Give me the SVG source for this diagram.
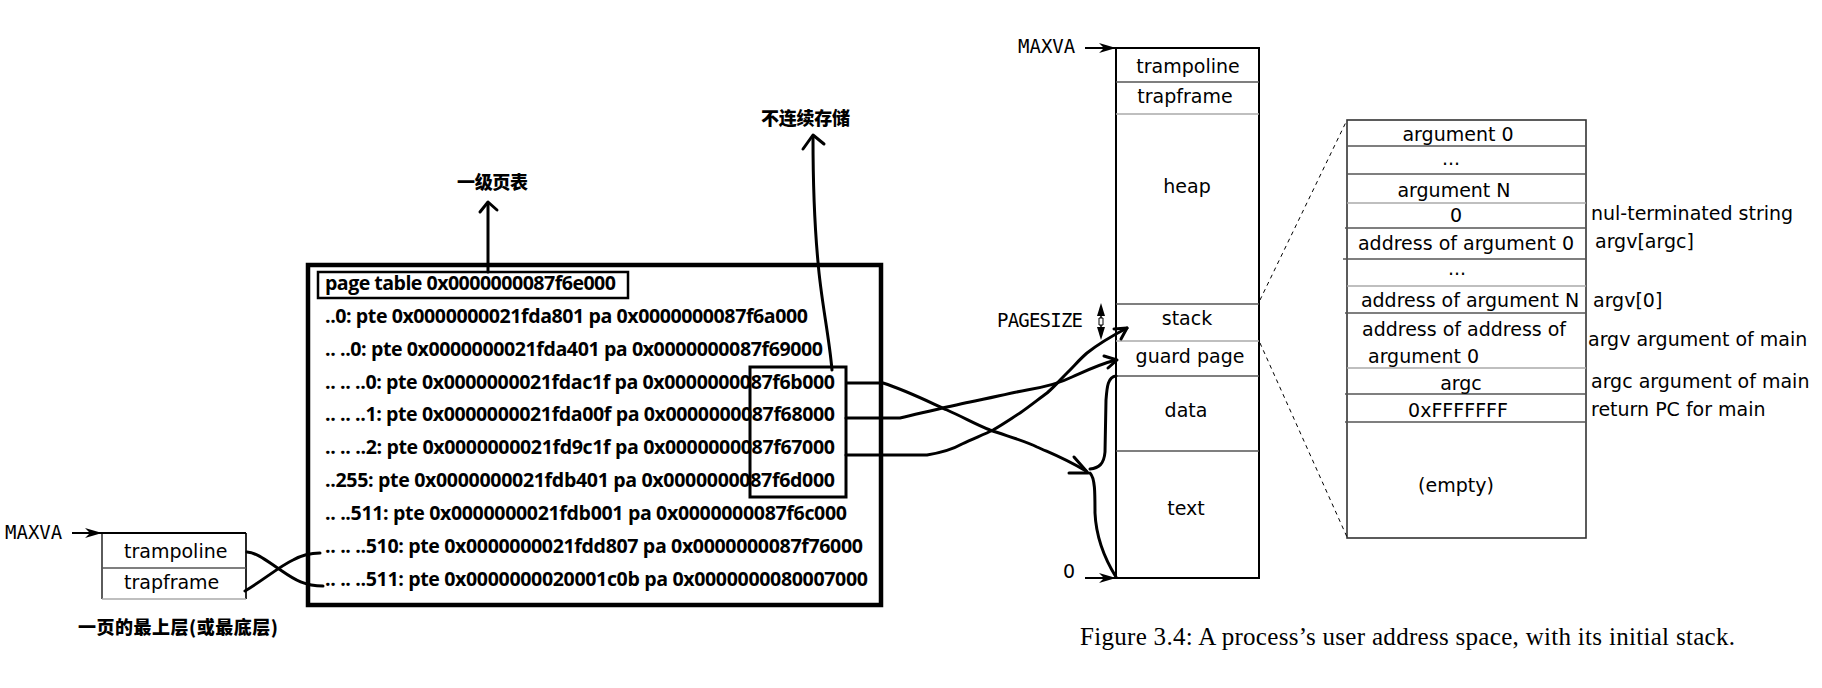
<svg xmlns="http://www.w3.org/2000/svg" width="1822" height="688" viewBox="0 0 1822 688">
<defs>
<style>
.bg{fill:#fff}
.pt{font-family:"Open Sans","Noto Sans",sans-serif;font-weight:bold;font-size:19.6px;fill:#000}
.cjk{font-family:"Noto Sans CJK SC","Noto Sans",sans-serif;font-weight:900;font-size:18px;fill:#000}
.dv{font-family:"DejaVu Sans",sans-serif;font-size:19px;fill:#000}
.mono{font-family:"DejaVu Sans Mono",monospace;font-size:19px;fill:#000}
.cap{font-family:"Liberation Serif",serif;font-size:25px;fill:#000}
.edge{fill:none;stroke:#000;stroke-width:2}
.div1{stroke:#555;stroke-width:1.6}
.div2{stroke:#aaa;stroke-width:1.6}
.hand{fill:none;stroke:#000;stroke-width:3;stroke-linecap:round;stroke-linejoin:round}
.dash{fill:none;stroke:#000;stroke-width:1;stroke-dasharray:4 4}
.mid{text-anchor:middle}
</style>
<marker id="barb" markerUnits="userSpaceOnUse" markerWidth="18" markerHeight="10" refX="17" refY="5" orient="auto">
<path d="M0,0 L17,5 L0,10 L5,5 z" fill="#000"/>
</marker>
</defs>
<rect class="bg" x="0" y="0" width="1822" height="688"/>

<!-- Page table dump -->
<g id="page-table">
<rect x="308" y="265" width="573" height="340" fill="none" stroke="#000" stroke-width="4.5"/>
<text class="pt" x="325" y="323" textLength="483">..0: pte 0x0000000021fda801 pa 0x0000000087f6a000</text>
<text class="pt" x="325" y="356" textLength="498">.. ..0: pte 0x0000000021fda401 pa 0x0000000087f69000</text>
<text class="pt" x="325" y="389" textLength="510">.. .. ..0: pte 0x0000000021fdac1f pa 0x0000000087f6b000</text>
<text class="pt" x="325" y="421" textLength="510">.. .. ..1: pte 0x0000000021fda00f pa 0x0000000087f68000</text>
<text class="pt" x="325" y="454" textLength="510">.. .. ..2: pte 0x0000000021fd9c1f pa 0x0000000087f67000</text>
<text class="pt" x="325" y="487" textLength="510">..255: pte 0x0000000021fdb401 pa 0x0000000087f6d000</text>
<text class="pt" x="325" y="520" textLength="522">.. ..511: pte 0x0000000021fdb001 pa 0x0000000087f6c000</text>
<text class="pt" x="325" y="553" textLength="538">.. .. ..510: pte 0x0000000021fdd807 pa 0x0000000087f76000</text>
<text class="pt" x="325" y="586" textLength="543">.. .. ..511: pte 0x0000000020001c0b pa 0x0000000080007000</text>
</g>
<g id="pt-title">
<rect x="318" y="272" width="310" height="26" fill="none" stroke="#000" stroke-width="2.5"/>
<text class="pt" x="325" y="290" textLength="291">page table 0x0000000087f6e000</text>
</g>
<g id="pt-pa-box">
<rect x="750" y="367" width="96" height="130" fill="none" stroke="#000" stroke-width="3"/>
</g>
<g id="label-level1">
<text class="cjk" x="457" y="189" textLength="71">一级页表</text>
</g>
<g id="label-noncontig">
<text class="cjk" x="761" y="125" textLength="89">不连续存储</text>
</g>
<g id="label-page-top">
<text class="cjk" x="78" y="634" textLength="200">一页的最上层(或最底层)</text>
</g>

<!-- Left small page -->
<g id="left-page">
<text class="mono" x="5" y="539">MAXVA</text>
<line x1="102" y1="533" x2="102" y2="599" stroke="#333" stroke-width="1.6"/>
<line x1="246" y1="533" x2="246" y2="599" stroke="#111" stroke-width="1.8"/>
<line x1="102" y1="533" x2="246" y2="533" stroke="#000" stroke-width="2"/>
<line class="div1" x1="102" y1="568" x2="246" y2="568"/>
<line class="div2" x1="102" y1="599" x2="246" y2="599"/>
<text class="dv" x="124" y="558">trampoline</text>
<text class="dv" x="124" y="589">trapframe</text>
</g>

<!-- Process address space -->
<g id="address-space">
<text class="mono" x="1018" y="53">MAXVA</text>
<rect class="edge" x="1116" y="48" width="143" height="530"/>
<line class="div1" x1="1116" y1="82" x2="1259" y2="82"/>
<line class="div2" x1="1116" y1="114" x2="1259" y2="114"/>
<line class="div1" x1="1116" y1="304" x2="1259" y2="304"/>
<line class="div2" x1="1116" y1="341" x2="1259" y2="341"/>
<line class="div1" x1="1116" y1="376" x2="1259" y2="376"/>
<line class="div1" x1="1116" y1="451" x2="1259" y2="451"/>
<text class="dv mid" x="1188" y="73">trampoline</text>
<text class="dv mid" x="1185" y="103">trapframe</text>
<text class="dv mid" x="1187" y="193">heap</text>
<text class="dv mid" x="1187" y="325">stack</text>
<text class="dv mid" x="1190" y="363">guard page</text>
<text class="dv mid" x="1186" y="417">data</text>
<text class="dv mid" x="1186" y="515">text</text>
<text class="mono" x="997" y="327" textLength="86">PAGESIZE</text>
<text class="dv" x="1063" y="578">0</text>
</g>

<!-- Initial stack detail -->
<g id="initial-stack">
<rect x="1347" y="120" width="239" height="418" fill="none" stroke="#333" stroke-width="1.6"/>
<line class="div1" x1="1347" y1="146" x2="1586" y2="146"/>
<line class="div1" x1="1347" y1="174" x2="1586" y2="174"/>
<line class="div2" x1="1347" y1="203" x2="1586" y2="203"/>
<line class="div1" x1="1345" y1="228" x2="1586" y2="228"/>
<line class="div1" x1="1343" y1="259" x2="1586" y2="259"/>
<line class="div2" x1="1347" y1="286" x2="1586" y2="286"/>
<line class="div1" x1="1345" y1="313" x2="1586" y2="313"/>
<line class="div2" x1="1347" y1="368" x2="1586" y2="368"/>
<line class="div1" x1="1345" y1="394" x2="1586" y2="394"/>
<line class="div1" x1="1345" y1="422" x2="1586" y2="422"/>
<text class="dv mid" x="1458" y="141">argument 0</text>
<text class="dv mid" x="1451" y="165">...</text>
<text class="dv mid" x="1454" y="197">argument N</text>
<text class="dv mid" x="1456" y="222">0</text>
<text class="dv mid" x="1466" y="250">address of argument 0</text>
<text class="dv mid" x="1457" y="275">...</text>
<text class="dv mid" x="1470" y="307">address of argument N</text>
<text class="dv" x="1362" y="336">address of address of</text>
<text class="dv" x="1368" y="363">argument 0</text>
<text class="dv mid" x="1461" y="390">argc</text>
<text class="dv mid" x="1458" y="417">0xFFFFFFF</text>
<text class="dv mid" x="1456" y="492">(empty)</text>
<text class="dv" x="1591" y="220">nul-terminated string</text>
<text class="dv" x="1595" y="248">argv[argc]</text>
<text class="dv" x="1593" y="307">argv[0]</text>
<text class="dv" x="1588" y="346">argv argument of main</text>
<text class="dv" x="1591" y="388">argc argument of main</text>
<text class="dv" x="1591" y="416">return PC for main</text>
</g>

<g id="caption">
<text class="cap" x="1080" y="645" textLength="655">Figure 3.4: A process’s user address space, with its initial stack.</text>
</g>

<!-- Connectors -->
<g id="connectors">
<line x1="72" y1="533" x2="102" y2="533" stroke="#000" stroke-width="2" marker-end="url(#barb)"/>
<line x1="1085" y1="48" x2="1116" y2="48" stroke="#000" stroke-width="2" marker-end="url(#barb)"/>
<line x1="1085" y1="578" x2="1116" y2="578" stroke="#000" stroke-width="2" marker-end="url(#barb)"/>
<g id="pagesize-arrow">
<line x1="1101" y1="312" x2="1101" y2="331" stroke="#000" stroke-width="1.5"/>
<path d="M1101,303 L1105,316 L1097,316 z" fill="#000"/>
<path d="M1101,340 L1105,327 L1097,327 z" fill="#000"/>
<path d="M1099,318 L1103,318 L1103,325 L1099,325 z" fill="#fff" stroke="#000" stroke-width="1"/>
</g>
<path class="dash" d="M1260,300 L1347,120"/>
<path class="dash" d="M1260,343 L1347,537"/>
<path class="hand" d="M488,272 L488,203"/>
<path class="hand" d="M480,212 L488,202 L497,210"/>
<path class="hand" d="M832,370 C829,335 821,300 818,262 C815,230 813,180 813,137"/>
<path class="hand" d="M803,149 L813,135 L824,144"/>
<path class="hand" d="M247,552 C258,553 268,562 282,571 C295,580 305,586 323,586"/>
<path class="hand" d="M245,591 C262,581 280,566 293,560 C302,555 310,553 320,553"/>
<path class="hand" d="M847,383 L883,383 C905,390 925,400 947,410 C965,418 975,424 990,430 C1010,437 1025,441 1037,447 C1050,453 1062,457 1086,471"/>
<path class="hand" d="M1074,457 L1088,473 L1069,473"/>
<path class="hand" d="M1116,376 C1108,377 1107,386 1106,400 L1105,452 C1104,464 1099,468 1090,469"/>
<path class="hand" d="M1090,473 C1095,478 1095,492 1095,513 C1096,535 1103,556 1116,577"/>
<path class="hand" d="M846,418 L900,418 C930,411 950,406 970,402 C995,397 1010,393 1027,390 C1045,387 1060,383 1072,377 C1090,369 1100,364 1116,360"/>
<path class="hand" d="M1104,356 L1117,360 L1108,368"/>
<path class="hand" d="M846,455 L927,455 C945,452 955,448 962,444 C975,438 985,434 993,430 C1005,423 1012,418 1020,413 C1030,406 1040,398 1047,393 C1055,386 1060,380 1067,373 C1075,365 1080,359 1087,353 C1097,345 1108,338 1127,328"/>
<path class="hand" d="M1114,329 L1127,328 L1121,339"/>
</g>
</svg>
